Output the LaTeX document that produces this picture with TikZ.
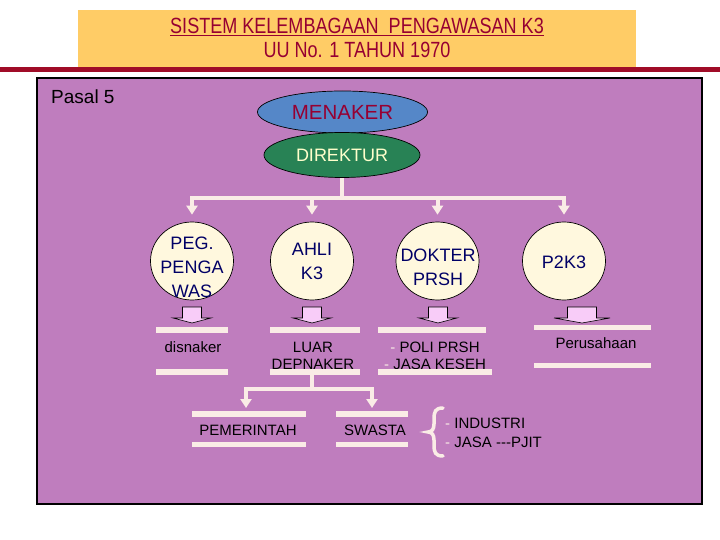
\documentclass[tikz,border=0pt]{standalone}
\usepackage{fontspec}
\setmainfont{Liberation Sans}
\newfontfamily\titlefont[FakeStretch=0.82]{Liberation Sans}
\usetikzlibrary{shapes.geometric,arrows.meta}
\definecolor{purp}{RGB}{191,125,190}
\definecolor{ttlyel}{RGB}{255,204,102}
\definecolor{redbar}{RGB}{160,12,40}
\definecolor{linen}{RGB}{250,236,230}
\definecolor{circfill}{RGB}{255,248,222}
\definecolor{navy}{RGB}{0,0,102}
\definecolor{menblue}{RGB}{85,135,200}
\definecolor{dirgreen}{RGB}{40,130,85}
\definecolor{menred}{RGB}{150,0,50}
\definecolor{pinkarr}{RGB}{248,204,248}
\definecolor{dirtext}{RGB}{255,255,204}
\begin{document}
\begin{tikzpicture}[x=1pt,y=-1pt,
 circ/.style={ellipse,draw=black,line width=0.7pt,fill=circfill,minimum width=83pt,minimum height=78pt,inner sep=0pt},
 ctext/.style={align=center,text=navy,font=\fontsize{18}{24}\selectfont,inner sep=0pt},
 stext/.style={align=center,text=black,font=\fontsize{15}{17}\selectfont,inner sep=0pt},
 bar/.style={fill=linen,draw=none,minimum height=5.5pt,inner sep=0pt},
 conn/.style={draw=linen,line width=4pt},
 tip/.style={-{Triangle[width=11pt,length=9pt]}},
 blockarr/.style={fill=pinkarr,draw=black,line width=0.6pt,line join=miter}
]
\useasboundingbox (0,0) rectangle (720,540);
\fill[white] (0,0) rectangle (720,540);
% title
\node[fill=ttlyel, minimum width=558pt, minimum height=57pt, inner sep=0pt, anchor=north west] (titlebox) at (78,10) {};
\node[text=menred, font=\titlefont\fontsize{22}{24}\selectfont, align=center, inner sep=0pt] (title) at (357,38)
  {\underline{SISTEM KELEMBAGAAN\ \ PENGAWASAN K3}\\UU No. 1 TAHUN 1970};
\fill[redbar] (0,67) rectangle (720,72.5);
% panel
\filldraw[fill=purp,draw=black,line width=1.4pt] (37,78) rectangle (702,504);
\node[anchor=west, font=\fontsize{19}{22}\selectfont, inner sep=0pt] (pasal) at (51,97) {Pasal 5};
% top ellipses
\node[ellipse, draw=black, line width=0.7pt, fill=menblue, minimum width=170pt, minimum height=42pt, inner sep=0pt,
  text=menred, font=\fontsize{20.5}{24}\selectfont] (men) at (342.5,112) {MENAKER};
\node[ellipse, draw=black, line width=0.7pt, fill=dirgreen, minimum width=156pt, minimum height=45pt, inner sep=0pt,
  text=dirtext, font=\fontsize{18}{22}\selectfont] (dir) at (342,155) {DIREKTUR};
% circles
\node[circ] (peg) at (192,261) {};
\node[circ] (ahli) at (312,261) {};
\node[circ] (dok) at (437.5,261) {};
\node[circ] (p2k3) at (564,261) {};
\node[ctext] (pegt) at (192,267) {PEG.\\PENGA\\WAS};
\node[ctext] (ahlit) at (312,261.5) {AHLI\\K3};
\node[ctext] (dokt) at (438,267.5) {DOKTER\\PRSH};
\node[ctext] (p2k3t) at (564,262) {P2K3};
% connectors from DIREKTUR
\coordinate (hub) at (342,198);
\draw[conn] (dir.south) -- (hub);
\draw[conn,tip] (hub) -| ([yshift=7pt]peg.north);
\draw[conn,tip] (hub) -| ([yshift=7pt]ahli.north);
\draw[conn,tip] (hub) -| ([yshift=7pt]dok.north);
\draw[conn,tip] (hub) -| ([yshift=7pt]p2k3.north);
% block arrows
\filldraw[blockarr, shift={(192,318)}] (-9.5,-11) -- (9.5,-11) -- (9.5,0) -- (19,0) -- (0,5) -- (-19,0) -- (-9.5,0) -- cycle;
\filldraw[blockarr, shift={(312,318)}] (-9.5,-11) -- (9.5,-11) -- (9.5,0) -- (19,0) -- (0,5) -- (-19,0) -- (-9.5,0) -- cycle;
\filldraw[blockarr, shift={(438,318)}] (-9.5,-11) -- (9.5,-11) -- (9.5,0) -- (19,0) -- (0,5) -- (-19,0) -- (-9.5,0) -- cycle;
\filldraw[blockarr, shift={(582,318)}] (-14.5,-11) -- (14.5,-11) -- (14.5,0) -- (28,0) -- (0,5) -- (-28,0) -- (-14.5,0) -- cycle;
% texts under circles
\node[stext] (disn) at (193,347) {disnaker};
\node[stext] (luar) at (313,355.5) {LUAR\\DEPNAKER};
\node[stext] (poli) at (435,355.5) {{\color{linen}-} POLI PRSH\\{\color{linen}-} JASA KESEH};
\node[stext] (perus) at (596,343) {Perusahaan};
% bars
\node[bar, minimum width=72pt] (b1) at (192,330) {};
\node[bar, minimum width=90pt] (b2) at (315,330) {};
\node[bar, minimum width=108pt] (b3) at (432,330) {};
\node[bar, minimum width=117pt] (b4) at (592.5,327.5) {};
\node[bar, minimum width=72pt] (c1) at (192,372) {};
\node[bar, minimum width=90pt] (c2) at (315,372) {};
\node[bar, minimum width=114pt] (c3) at (435,372) {};
\node[bar, minimum width=117pt] (c4) at (592.5,365.5) {};
% lower branch
\node[bar, minimum width=114pt] (d1) at (249,414) {};
\node[bar, minimum width=114pt] (d2) at (249,444.5) {};
\node[bar, minimum width=72pt] (e1) at (372,414) {};
\node[bar, minimum width=72pt] (e2) at (372,444.5) {};
\node[stext] (pem) at (248,430) {PEMERINTAH};
\node[stext] (swa) at (375,430) {SWASTA};
\coordinate (lhub) at (312,389);
\coordinate (pemin) at (246,408);
\coordinate (swin) at (372,408);
\draw[conn] (c2.south -| lhub) -- (lhub);
\draw[conn,tip] (lhub) -| (pemin);
\draw[conn,tip] (lhub) -| (swin);
% brace
\draw[draw=linen, line width=3.5pt, line cap=round]
  (443,408) .. controls (435,408) and (434,412) .. (434,419) -- (434,424)
  .. controls (434,429) and (432,432) .. (428,432)
  .. controls (432,432) and (434,435) .. (434,440) -- (434,445)
  .. controls (434,452) and (435,456) .. (443,456);
\node[stext, align=left, anchor=west, font=\fontsize{15}{19}\selectfont] (ind) at (445,432.5)
  {{\color{linen}-} INDUSTRI\\{\color{linen}-} JASA -{}-{}-PJIT};
\end{tikzpicture}
\end{document}
